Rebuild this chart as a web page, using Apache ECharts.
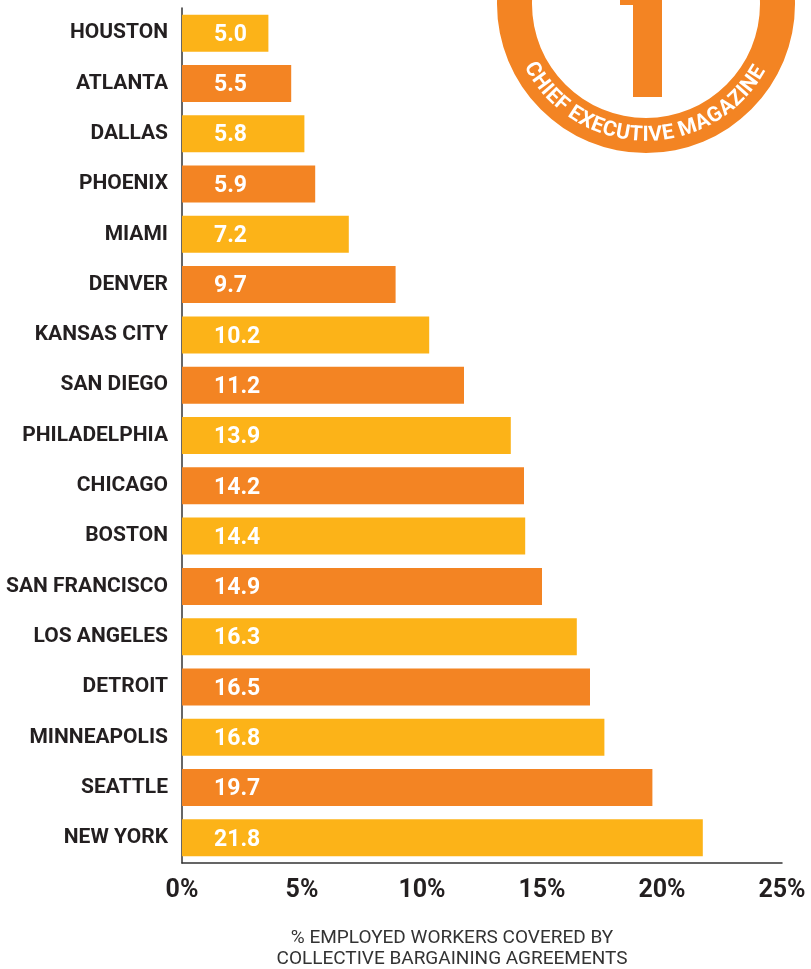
<!DOCTYPE html>
<html>
<head>
<meta charset="utf-8">
<script src="https://cdn.jsdelivr.net/npm/echarts@6/dist/echarts.min.js"></script>
<style>
  html, body { margin: 0; padding: 0; background: #fff; }
  #chart { width: 811px; height: 969px; }
</style>
</head>
<body>
<div id="chart"></div>
<script>
var cities = ['HOUSTON', 'ATLANTA', 'DALLAS', 'PHOENIX', 'MIAMI', 'DENVER', 'KANSAS CITY', 'SAN DIEGO',
  'PHILADELPHIA', 'CHICAGO', 'BOSTON', 'SAN FRANCISCO', 'LOS ANGELES', 'DETROIT', 'MINNEAPOLIS', 'SEATTLE', 'NEW YORK'];
// printed values
var labelValues = ['5.0', '5.5', '5.8', '5.9', '7.2', '9.7', '10.2', '11.2', '13.9', '14.2', '14.4', '14.9', '16.3', '16.5', '16.8', '19.7', '21.8'];
// bar lengths as drawn in the picture (read against the % axis)
var barLengths = [3.6, 4.55, 5.1, 5.55, 6.95, 8.9, 10.3, 11.75, 13.7, 14.25, 14.3, 15.0, 16.45, 17.0, 17.6, 19.6, 21.7];
var axisTicks = [0, 5, 10, 15, 20, 25];
var badgeText = 'CHIEF EXECUTIVE MAGAZINE';
var axisTitle = ['% EMPLOYED WORKERS COVERED BY', 'COLLECTIVE BARGAINING AGREEMENTS'];

var YELLOW = '#FCB318';
var ORANGE = '#F38423';
var DARK = '#231F20';

var myChart = echarts.init(document.getElementById('chart'));

// badge: ring + "1" + curved text
var cx = 646, cy = 4, rOut = 149, rIn = 114;
var badge = [
  { type: 'ring', shape: { cx: cx, cy: cy, r: rOut, r0: rIn }, style: { fill: ORANGE }, z: 10 },
  { type: 'rect', shape: { x: 633, y: -10, width: 29, height: 107 }, style: { fill: ORANGE }, z: 10 },
  { type: 'polygon', shape: { points: [[620, -10], [633, -10], [633, 5], [620, 5]] }, style: { fill: ORANGE }, z: 10 }
];

var measure = document.createElement('canvas').getContext('2d');
var badgeFont = 'bold 21px Roboto';
measure.font = badgeFont;
var widths = badgeText.split('').map(function (ch) { return measure.measureText(ch).width; });
var total = widths.reduce(function (a, b) { return a + b; }, 0);
var rText = (rOut + rIn) / 2;
var span = total / rText;
var midAngle = 91 * Math.PI / 180;
var acc = 0;
badgeText.split('').forEach(function (ch, i) {
  var center = acc + widths[i] / 2;
  acc += widths[i];
  var theta = midAngle + span / 2 - center / rText;
  if (ch === ' ') return;
  badge.push({
    type: 'text',
    x: cx + rText * Math.cos(theta),
    y: cy + rText * Math.sin(theta),
    rotation: -(theta - Math.PI / 2),
    style: { text: ch, font: badgeFont, fill: '#fff', align: 'center', verticalAlign: 'middle' },
    z: 11
  });
});

badge.push({
  type: 'text', x: 452, y: 928,
  style: { text: axisTitle.join('\n'), font: '19px Roboto', fill: '#333', align: 'center', lineHeight: 21 },
  z: 5
});

var option = {
  animation: false,
  grid: { left: 182, right: 29, top: 8, bottom: 106, containLabel: false },
  xAxis: {
    type: 'value', min: 0, max: 25, interval: 5,
    splitLine: { show: false },
    axisTick: { show: false },
    axisLine: { show: true, lineStyle: { color: '#333', width: 1.5 } },
    axisLabel: {
      margin: 15, color: DARK, fontFamily: 'Roboto', fontWeight: 'bold', fontSize: 25,
      formatter: function (v) { return axisTicks.indexOf(v) >= 0 ? v + '%' : ''; }
    }
  },
  yAxis: {
    type: 'category', data: cities, inverse: true,
    axisTick: { show: false },
    axisLine: { show: true, lineStyle: { color: '#333', width: 1.5 } },
    axisLabel: { margin: 14, padding: [5, 0, 0, 0], color: DARK, fontFamily: 'Roboto', fontWeight: 'bold', fontSize: 21 }
  },
  series: [{
    type: 'bar',
    barWidth: 37,
    data: barLengths.map(function (v, i) {
      return { value: v, itemStyle: { color: i % 2 === 0 ? YELLOW : ORANGE } };
    }),
    label: {
      show: true, position: 'insideLeft', distance: 32, offset: [0, 2],
      color: '#fff', fontFamily: 'Roboto', fontWeight: 'bold', fontSize: 23,
      formatter: function (p) { return labelValues[p.dataIndex]; }
    }
  }],
  graphic: badge
};
myChart.setOption(option);
</script>
</body>
</html>
